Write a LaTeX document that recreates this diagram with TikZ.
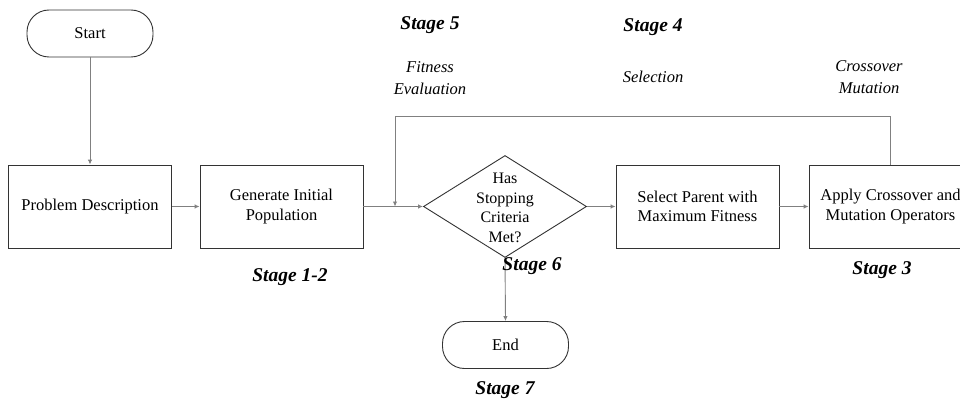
\documentclass[tikz,border=0pt]{standalone}
\usepackage{fontspec}
\setmainfont{Liberation Serif}
\usetikzlibrary{shapes.geometric,arrows.meta}
\begin{document}
\begin{tikzpicture}[x=1pt,y=-1pt,
  box/.style={draw=black!80,line width=0.9pt,minimum width=163pt,minimum height=83pt,inner sep=0pt,align=center,font=\fontsize{16.5}{19.5}\selectfont},
  term/.style={draw=black!80,line width=0.9pt,rounded corners=22pt,minimum width=126pt,minimum height=47pt,inner sep=0pt,font=\fontsize{16.5}{19.5}\selectfont},
  conn/.style={draw=black!50,line width=0.9pt},
  arr/.style={conn,-{Latex[length=5pt,width=4.5pt]}},
  stagelab/.style={font=\fontsize{19.5}{22}\selectfont\bfseries\itshape},
  desc/.style={font=\fontsize{16.5}{22}\selectfont\itshape,align=center}]
\useasboundingbox (0,0) rectangle (960,401);
\clip (0,0) rectangle (960,401);
\fill[white] (0,0) rectangle (960,401);

\node[term] (start) at (90,33.5) {Start};
\node[box] (prob) at (90,206.5) {Problem Description};
\node[box] (gen) at (281.5,206.5) {Generate Initial\\Population};
\node[draw=black!80,line width=0.9pt,diamond,minimum width=163pt,minimum height=102pt,inner sep=0pt] (dec) at (505,206.5) {};
\node[align=center,font=\fontsize{16}{19.5}\selectfont] (dectext) at (505,208) {Has\\Stopping\\Criteria\\Met?};
\node[box] (sel) at (697.5,206.5) {Select Parent with\\Maximum Fitness};
\node[box] (cro) at (890.5,206.5) {Apply Crossover and\\Mutation Operators};
\node[term] (endn) at (505.5,345) {End};

\coordinate (loopin) at (395,206.5);
\coordinate (looptl) at (395,116);
\coordinate (looptr) at (890.5,116);

\draw[arr] (start) -- (prob);
\draw[arr] (prob) -- (gen);
\draw[arr] (gen) -- (dec.west);
\draw[conn] (cro.north) -- (looptr) -- (looptl);
\draw[arr] (looptl) -- (loopin);
\draw[arr] (dec) -- (sel);
\draw[arr] (sel) -- (cro);
\draw[arr] (dec.south) -- (endn.north);

\node[stagelab] (s5) at (430,25) {Stage 5};
\node[stagelab] (s4) at (653,27) {Stage 4};
\node[desc] (fit) at (430,78) {Fitness\\Evaluation};
\node[desc] (selt) at (653,77) {Selection};
\node[desc] (crot) at (869,77) {Crossover\\Mutation};
\node[stagelab] (s12) at (290,277) {Stage 1-2};
\node[stagelab] (s6) at (532,266) {Stage 6};
\node[stagelab] (s3) at (882,270) {Stage 3};
\node[stagelab] (s7) at (505,390) {Stage 7};
\end{tikzpicture}
\end{document}
